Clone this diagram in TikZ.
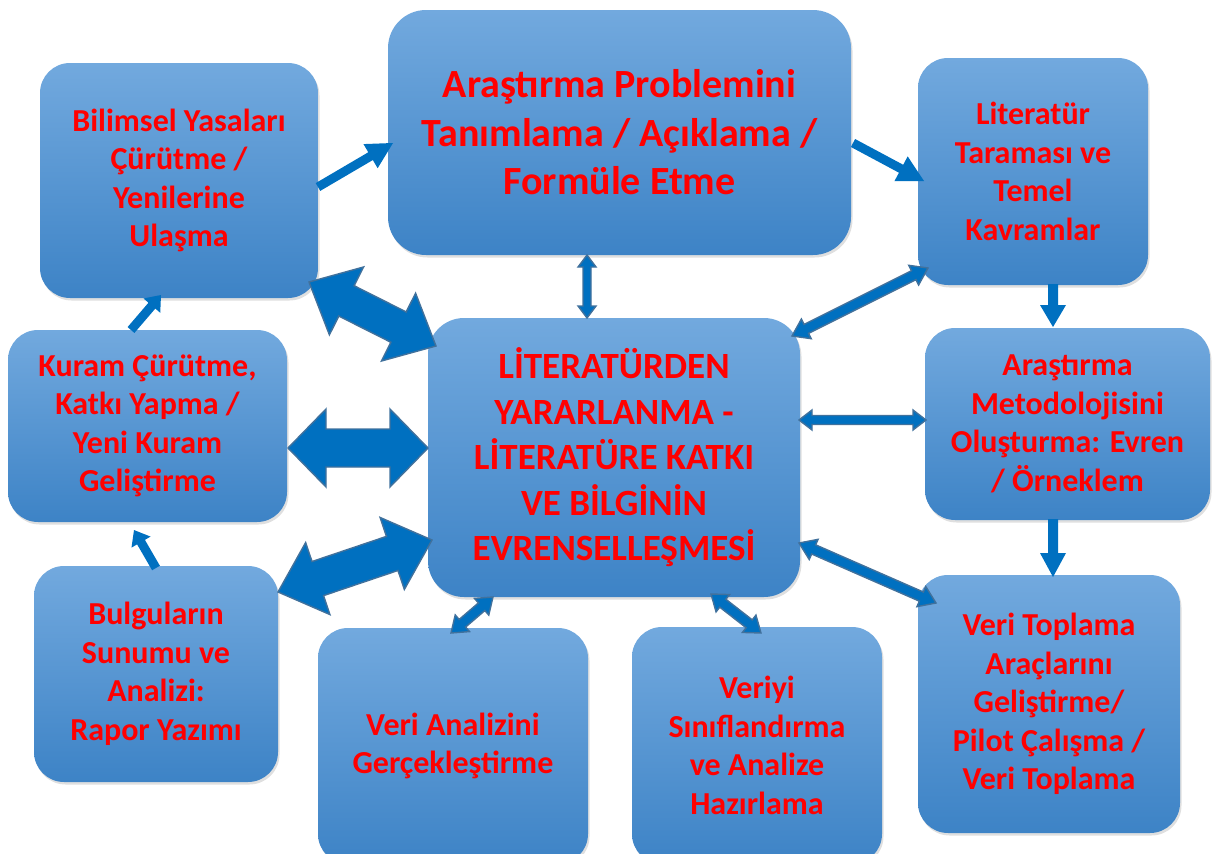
\documentclass[tikz,border=0pt]{standalone}
\usepackage{fontspec}
\setmainfont{Carlito}
\usetikzlibrary{calc,shadows}
\definecolor{txtred}{HTML}{FF0000}
\definecolor{afill}{HTML}{0070C0}
\definecolor{aedge}{HTML}{41719C}
\definecolor{btop}{HTML}{72A9DE}
\definecolor{bbot}{HTML}{3D83C6}
\tikzset{
  box/.style={rounded corners=30pt, top color=btop, bottom color=bbot, draw=none,
    align=center, text=txtred, inner sep=0pt,
    font=\bfseries\fontsize{32}{38.5}\selectfont,
    drop shadow={opacity=0.25, shadow xshift=1.5pt, shadow yshift=-2.5pt}},
  bigtext/.style={font=\bfseries\fontsize{40}{48.5}\selectfont},
  centext/.style={font=\bfseries\fontsize{37}{45.5}\selectfont},
  arr/.style={fill=afill, draw=aedge, line width=1.4pt, line join=miter},
  sarr/.style={fill=afill, draw=none},
}
% double arrow: #1 A, #2 B, #3 shaft half width, #4 head half width, #5 head length
\newcommand\darrow[5]{%
  \path ($(#1)!#5!(#2)$) coordinate (qa) ($(#2)!#5!(#1)$) coordinate (qb);
  \filldraw[arr] (#1) -- ($(qa)!#4!90:(#2)$) -- ($(qa)!#3!90:(#2)$)
    -- ($(qb)!#3!-90:(#1)$) -- ($(qb)!#4!-90:(#1)$) -- (#2)
    -- ($(qb)!#4!90:(#1)$) -- ($(qb)!#3!90:(#1)$)
    -- ($(qa)!#3!-90:(#2)$) -- ($(qa)!#4!-90:(#2)$) -- cycle;}
% single arrow: #1 tail, #2 tip
\newcommand\sarrow[5]{%
  \path ($(#2)!#5!(#1)$) coordinate (qb);
  \fill[sarr] ($(#1)!#3!90:(#2)$) -- ($(qb)!#3!-90:(#1)$) -- ($(qb)!#4!-90:(#1)$) -- (#2)
    -- ($(qb)!#4!90:(#1)$) -- ($(qb)!#3!90:(#1)$) -- ($(#1)!#3!-90:(#2)$) -- cycle;}
\begin{document}
\begin{tikzpicture}[x=1pt,y=-1pt]
\useasboundingbox (0,0) rectangle (1219,854);
\clip (0,0) rectangle (1219,854);
% boxes
\node[box, minimum width=463pt, minimum height=245pt, rounded corners=38pt, bigtext] (top) at (619.5,132.5)
  {Araştırma Problemini\\Tanımlama / Açıklama /\\Formüle Etme};
\node[box, minimum width=278pt, minimum height=235pt] (bil) at (179,180.5)
  {Bilimsel Yasaları\\Çürütme /\\Yenilerine\\Ulaşma};
\node[box, minimum width=230pt, minimum height=227pt] (lit) at (1033,171.5)
  {Literatür\\Taraması ve\\Temel\\Kavramlar};
\node[box, minimum width=372pt, minimum height=279pt, rounded corners=36pt, centext] (cen) at (614,457.5)
  {LİTERATÜRDEN\\YARARLANMA -\\LİTERATÜRE KATKI\\VE BİLGİNİN\\EVRENSELLEŞMESİ};
\node[box, minimum width=279pt, minimum height=192pt] (kur) at (147.5,426)
  {Kuram Çürütme,\\Katkı Yapma /\\Yeni Kuram\\Geliştirme};
\node[box, minimum width=285pt, minimum height=192pt] (met) at (1067.5,424)
  {Araştırma\\Metodolojisini\\Oluşturma: Evren\\/ Örneklem};
\node[box, minimum width=244pt, minimum height=216pt] (bul) at (156,674)
  {Bulguların\\Sunumu ve\\Analizi:\\Rapor Yazımı};
\node[box, minimum width=270pt, minimum height=236pt] (van) at (453,746)
  {Veri Analizini\\Gerçekleştirme};
\node[box, minimum width=250pt, minimum height=237pt] (ver) at (757,745.5)
  {Veriyi\\Sınıflandırma\\ve Analize\\Hazırlama};
\node[box, minimum width=262pt, minimum height=258pt] (vt) at (1049,704)
  {Veri Toplama\\Araçlarını\\Geliştirme/\\Pilot Çalışma /\\Veri Toplama};
% arrow end points
\coordinate (s1a) at (318,187);  \coordinate (s1b) at (393,143);
\coordinate (s2a) at (853,143);  \coordinate (s2b) at (924,181);
\coordinate (s3a) at (1053,284); \coordinate (s3b) at (1053,327);
\coordinate (s4a) at (1053,519); \coordinate (s4b) at (1053,577);
\coordinate (s5a) at (156,568);  \coordinate (s5b) at (134,530);
\coordinate (s6a) at (131,330);  \coordinate (s6b) at (161,295);
% single arrows
\sarrow{s1a}{s1b}{4.5pt}{14pt}{26pt}
\sarrow{s2a}{s2b}{4.5pt}{14pt}{26pt}
\sarrow{s3a}{s3b}{5pt}{13pt}{22pt}
\sarrow{s4a}{s4b}{5pt}{13pt}{24pt}
\sarrow{s5a}{s5b}{4.5pt}{11pt}{14pt}
\sarrow{s6a}{s6b}{4.5pt}{11pt}{14pt}
% thin double arrows
\coordinate (d1a) at (587,255);  \coordinate (d1b) at (587,318);
\coordinate (d2a) at (792,336);  \coordinate (d2b) at (928,268);
\coordinate (d3a) at (799,420);  \coordinate (d3b) at (926,420);
\coordinate (d4a) at (799,543);  \coordinate (d4b) at (936,603);
\coordinate (d5a) at (451,633);  \coordinate (d5b) at (493,597);
\coordinate (d6a) at (711,594);  \coordinate (d6b) at (761,633);
\darrow{d1a}{d1b}{4pt}{9pt}{12pt}
\darrow{d2a}{d2b}{5pt}{11pt}{16pt}
\darrow{d3a}{d3b}{4.5pt}{10pt}{13pt}
\darrow{d4a}{d4b}{5pt}{11pt}{16pt}
\darrow{d5a}{d5b}{5pt}{11pt}{15pt}
\darrow{d6a}{d6b}{5pt}{11pt}{15pt}
% block double arrows
\coordinate (b1a) at (309,282);  \coordinate (b1b) at (436,346);
\coordinate (b2a) at (288,448);  \coordinate (b2b) at (428,448);
\coordinate (b3a) at (278,592);  \coordinate (b3b) at (432,540);
\darrow{b1a}{b1b}{17pt}{38pt}{42pt}
\darrow{b2a}{b2b}{19pt}{39pt}{38pt}
\darrow{b3a}{b3b}{18pt}{38pt}{42pt}
\end{tikzpicture}
\end{document}
